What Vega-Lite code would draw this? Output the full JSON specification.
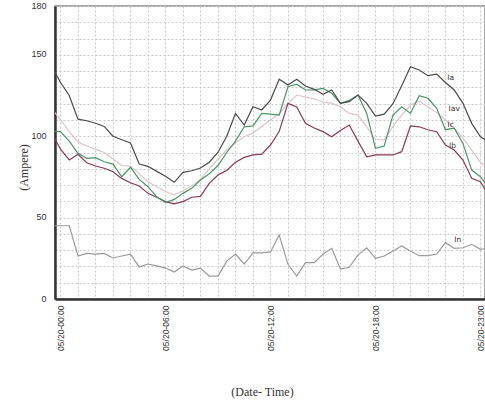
{
  "$schema": "https://vega.github.io/schema/vega-lite/v6.json",
  "width": 430,
  "height": 293,
  "autosize": {"type": "none"},
  "padding": {"left": 55, "top": 6, "right": 0, "bottom": 103},
  "background": "white",
  "config": {
    "view": {"stroke": "#8a8a8a", "strokeWidth": 1.5},
    "axis": {"labelFont": "Liberation Sans", "titleFont": "Liberation Serif", "labelColor": "#333", "titleColor": "#333", "titleFontWeight": "normal"}
  },
  "datasets": {
    "readings": [
      {"h": -0.5, "Ia": 143, "Iav": 117, "Ic": 103, "Ib": 102, "In": 45},
      {"h": 0, "Ia": 133, "Iav": 110, "Ic": 102.8, "Ib": 92, "In": 45},
      {"h": 0.5, "Ia": 125, "Iav": 103, "Ic": 97, "Ib": 85.4, "In": 45},
      {"h": 1, "Ia": 110.5, "Iav": 96.5, "Ic": 89.5, "Ib": 88.9, "In": 26.4},
      {"h": 1.5, "Ia": 109.5, "Iav": 94, "Ic": 86.4, "Ib": 83.7, "In": 28},
      {"h": 2, "Ia": 108, "Iav": 92, "Ic": 86.8, "Ib": 81.7, "In": 27.6},
      {"h": 2.5, "Ia": 106, "Iav": 90, "Ic": 84.3, "Ib": 80.3, "In": 28},
      {"h": 3, "Ia": 100, "Iav": 86, "Ic": 82.9, "Ib": 78.2, "In": 25.2},
      {"h": 3.5, "Ia": 97.8, "Iav": 82, "Ic": 75.1, "Ib": 74.1, "In": 26.4},
      {"h": 4, "Ia": 95.8, "Iav": 81.5, "Ic": 80.9, "Ib": 71.4, "In": 27.6},
      {"h": 4.5, "Ia": 82.9, "Iav": 77, "Ic": 73.5, "Ib": 69.4, "In": 19.7},
      {"h": 5, "Ia": 81.5, "Iav": 72, "Ic": 69, "Ib": 64.9, "In": 21.5},
      {"h": 5.5, "Ia": 78.4, "Iav": 69, "Ic": 62.8, "Ib": 62.5, "In": 20.3},
      {"h": 6, "Ia": 75.4, "Iav": 66, "Ic": 59.2, "Ib": 59.8, "In": 19},
      {"h": 6.5, "Ia": 71.7, "Iav": 64, "Ic": 61.2, "Ib": 58.4, "In": 16.6},
      {"h": 7, "Ia": 77.8, "Iav": 66.5, "Ic": 64.9, "Ib": 59.8, "In": 20.3},
      {"h": 7.5, "Ia": 78.8, "Iav": 69.5, "Ic": 68, "Ib": 62.5, "In": 17.8},
      {"h": 8, "Ia": 80.5, "Iav": 73.5, "Ic": 73.1, "Ib": 63, "In": 19},
      {"h": 8.5, "Ia": 84, "Iav": 80, "Ic": 77, "Ib": 71, "In": 14.1},
      {"h": 9, "Ia": 90, "Iav": 86, "Ic": 82, "Ib": 76.2, "In": 14.1},
      {"h": 9.5, "Ia": 100, "Iav": 91.5, "Ic": 90, "Ib": 79, "In": 23.3},
      {"h": 10, "Ia": 114, "Iav": 96, "Ic": 97, "Ib": 84, "In": 27.6},
      {"h": 10.5, "Ia": 106.9, "Iav": 99.7, "Ic": 105.8, "Ib": 87, "In": 21.5},
      {"h": 11, "Ia": 118.1, "Iav": 102, "Ic": 106.3, "Ib": 88.5, "In": 28.3},
      {"h": 11.5, "Ia": 116.1, "Iav": 106, "Ic": 114, "Ib": 89, "In": 28.3},
      {"h": 12, "Ia": 122.2, "Iav": 110, "Ic": 113.6, "Ib": 94.6, "In": 28.9},
      {"h": 12.5, "Ia": 135, "Iav": 114, "Ic": 113, "Ib": 103, "In": 39.3},
      {"h": 13, "Ia": 131.5, "Iav": 120, "Ic": 130.4, "Ib": 120.2, "In": 21.3},
      {"h": 13.5, "Ia": 135, "Iav": 125.3, "Ic": 132, "Ib": 118, "In": 14.1},
      {"h": 14, "Ia": 130.8, "Iav": 124, "Ic": 128.4, "Ib": 108, "In": 22.3},
      {"h": 14.5, "Ia": 128.8, "Iav": 123, "Ic": 128.5, "Ib": 105, "In": 22.3},
      {"h": 15, "Ia": 125.7, "Iav": 121, "Ic": 129.4, "Ib": 102.8, "In": 27.5},
      {"h": 15.5, "Ia": 128.4, "Iav": 120.2, "Ic": 126.4, "Ib": 99.7, "In": 31.1},
      {"h": 16, "Ia": 120.2, "Iav": 118.1, "Ic": 120.2, "Ib": 103.5, "In": 18.4},
      {"h": 16.5, "Ia": 121.2, "Iav": 114, "Ic": 122, "Ib": 106.9, "In": 19.5},
      {"h": 17, "Ia": 125.3, "Iav": 113, "Ic": 125.3, "Ib": 97, "In": 27},
      {"h": 17.5, "Ia": 120.2, "Iav": 105.8, "Ic": 114, "Ib": 87.4, "In": 31.5},
      {"h": 18, "Ia": 112.4, "Iav": 98, "Ic": 92.6, "Ib": 88.5, "In": 25},
      {"h": 18.5, "Ia": 113.6, "Iav": 97.7, "Ic": 94, "Ib": 88.5, "In": 26.4},
      {"h": 19, "Ia": 120, "Iav": 106, "Ic": 113, "Ib": 88.5, "In": 29.5},
      {"h": 19.5, "Ia": 131, "Iav": 113, "Ic": 118.1, "Ib": 90.5, "In": 32.6},
      {"h": 20, "Ia": 142.7, "Iav": 119, "Ic": 114, "Ib": 106.3, "In": 29.5},
      {"h": 20.5, "Ia": 140.7, "Iav": 121.5, "Ic": 124.9, "Ib": 105.8, "In": 26.6},
      {"h": 21, "Ia": 137.2, "Iav": 118, "Ic": 123.3, "Ib": 104, "In": 26.6},
      {"h": 21.5, "Ia": 138.2, "Iav": 114.5, "Ic": 117.1, "Ib": 102.8, "In": 27.6},
      {"h": 22, "Ia": 133, "Iav": 110, "Ic": 104, "Ib": 94.6, "In": 34.6},
      {"h": 22.5, "Ia": 128.4, "Iav": 105, "Ic": 104.9, "Ib": 91.5, "In": 31.1},
      {"h": 23, "Ia": 120.2, "Iav": 99, "Ic": 95.6, "Ib": 85.4, "In": 31.5},
      {"h": 23.5, "Ia": 107.9, "Iav": 91.5, "Ic": 79.2, "Ib": 74.1, "In": 33.6},
      {"h": 24, "Ia": 99.7, "Iav": 84, "Ic": 75.1, "Ib": 72, "In": 30.5},
      {"h": 24.5, "Ia": 96, "Iav": 80, "Ic": 68, "Ib": 63, "In": 31.5}
    ],
    "labels": [
      {"label": "Ia", "h": 22.3, "value": 136},
      {"label": "Iav", "h": 22.5, "value": 117},
      {"label": "Ic", "h": 22.3, "value": 107},
      {"label": "Ib", "h": 22.4, "value": 94},
      {"label": "In", "h": 22.7, "value": 36}
    ]
  },
  "encoding": {
    "x": {
      "field": "h", "type": "quantitative",
      "scale": {"domain": [-0.314, 24.26], "nice": false, "zero": false},
      "axis": {
        "values": [0,1,2,3,4,5,6,7,8,9,10,11,12,13,14,15,16,17,18,19,20,21,22,23,24],
        "labelExpr": "datum.value % 6 == 0 ? (datum.value == 24 ? '05/20-23:00' : '05/20-' + (datum.value < 10 ? '0' : '') + datum.value + ':00') : ''",
        "labelAngle": 270, "labelAlign": "right", "labelBaseline": "middle",
        "labelFontSize": 8.5, "labelPadding": 6, "labelOverlap": false, "labelFlush": false,
        "ticks": false, "domainColor": "#333", "domainWidth": 2.5,
        "grid": true, "gridColor": "#c8c8c8", "gridDash": [2, 2], "gridWidth": 1,
        "title": "(Date- Time)", "titleFontSize": 12, "titleX": 207, "titleY": 92,
        "titleAnchor": "middle", "titleBaseline": "middle", "titleAlign": "center"
      }
    },
    "y": {
      "field": "value", "type": "quantitative",
      "scale": {"domain": [0, 180], "nice": false},
      "axis": {
        "values": [0,10,20,30,40,50,60,70,80,90,100,110,120,130,140,150,160,170,180],
        "labelExpr": "(datum.value % 50 == 0 || datum.value == 180) ? datum.value : ''",
        "labelFontSize": 9, "labelPadding": 9, "labelOverlap": false, "labelFlush": false,
        "labelBaseline": "bottom", "labelOffset": 4,
        "ticks": false, "domainColor": "#333", "domainWidth": 2.5,
        "grid": true, "gridColor": "#c8c8c8", "gridDash": [2, 2], "gridWidth": 1,
        "title": "(Ampere)", "titleFontSize": 12, "titleX": -32, "titleY": 161,
        "titleAngle": 270, "titleBaseline": "middle", "titleAlign": "center"
      }
    }
  },
  "layer": [
    {
      "data": {"name": "readings"},
      "transform": [{"fold": ["In", "Iav", "Ib", "Ic", "Ia"], "as": ["series", "value"]}],
      "mark": {"type": "line", "clip": true, "strokeWidth": 1.2},
      "encoding": {
        "color": {
          "field": "series", "type": "nominal", "legend": null,
          "scale": {"domain": ["In", "Iav", "Ib", "Ic", "Ia"], "range": ["#9a9a9a", "#dcc4c8", "#8c3a55", "#4a9468", "#4a4a4a"]}
        },
        "detail": {"field": "series"}
      }
    },
    {
      "data": {"name": "labels"},
      "mark": {"type": "text", "font": "DejaVu Sans", "fontSize": 7.5, "align": "center", "baseline": "middle"},
      "encoding": {"text": {"field": "label"}, "color": {"value": "#333333"}}
    }
  ]
}
